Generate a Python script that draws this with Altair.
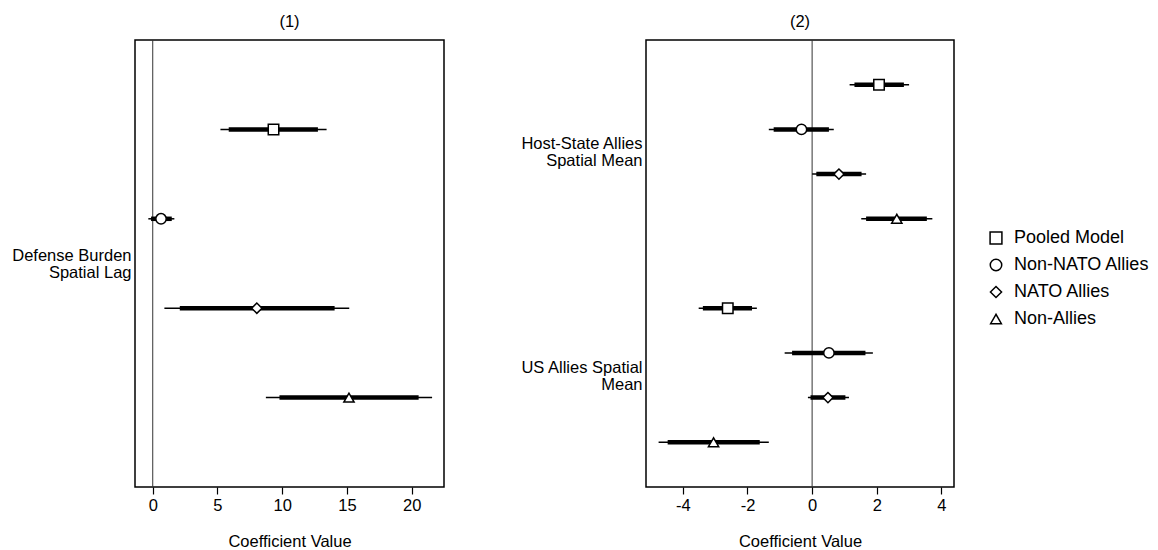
import json
import altair as alt
import pandas as pd

FONT = "Liberation Sans"

models = ["Pooled Model", "Non-NATO Allies", "NATO Allies", "Non-Allies"]
shapes = ["square", "circle", "diamond", "triangle-up"]
shape_sizes = [110, 105, 170, 150]
legend_sizes = [140, 115, 195, 165]

# Panel (1): Defense Burden Spatial Lag
p1_pos = [1, 2, 3, 4]
p1_model = models
p1_est = [9.33, 0.64, 8.04, 15.16]
p1_lo95 = [5.23, -0.34, 0.90, 8.74]
p1_hi95 = [13.43, 1.67, 15.18, 21.58]
p1_lo90 = [5.87, -0.13, 2.09, 9.79]
p1_hi90 = [12.76, 1.47, 14.05, 20.54]
p1_xticks = [0, 5, 10, 15, 20]
p1_ylabel_pos = [2.5]
p1_ylabels = [["Defense Burden", "Spatial Lag"]]

# Panel (2): Host-State Allies / US Allies spatial means
p2_pos = [1, 2, 3, 4, 6, 7, 8, 9]
p2_model = models + models
p2_est = [2.07, -0.33, 0.83, 2.62, -2.61, 0.52, 0.49, -3.05]
p2_lo95 = [1.16, -1.34, 0.00, 1.52, -3.51, -0.85, -0.13, -4.75]
p2_hi95 = [3.00, 0.67, 1.67, 3.72, -1.71, 1.88, 1.14, -1.34]
p2_lo90 = [1.31, -1.19, 0.13, 1.67, -3.38, -0.62, -0.05, -4.47]
p2_hi90 = [2.84, 0.52, 1.53, 3.55, -1.86, 1.65, 1.03, -1.62]
p2_xticks = [-4, -2, 0, 2, 4]
p2_ylabel_pos = [2.5, 7.5]
p2_ylabels = [["Host-State Allies", "Spatial Mean"], ["US Allies Spatial", "Mean"]]

ref_line = [0]

shape_scale = alt.Scale(domain=models, range=shapes)


def label_expr(vals, labels):
    expr = "''"
    for v, lab in reversed(list(zip(vals, labels))):
        expr = f"datum.value == {v} ? {json.dumps(lab)} : ({expr})"
    return expr


def title_params(text):
    return alt.TitleParams(text, fontSize=16.5, fontWeight="normal",
                           offset=9, color="black")


def panel(title, pos, model, est, lo95, hi95, lo90, hi90, xdomain, xticks,
          ydomain, ylab_pos, ylabels, width, height, yextent):
    df = pd.DataFrame({"pos": pos, "model": model, "est": est,
                       "lo95": lo95, "hi95": hi95, "lo90": lo90, "hi90": hi90})
    xscale = alt.Scale(domain=xdomain, nice=False, zero=False)
    xaxis = alt.Axis(values=xticks, labelExpr="'' + datum.value",
                     title="Coefficient Value", grid=False, domain=False,
                     tickColor="black", tickSize=7, tickWidth=1.2,
                     labelFontSize=16.5, labelColor="black", labelPadding=3,
                     titleFontSize=16.5, titleFontWeight="normal",
                     titleColor="black", titlePadding=20)
    yscale = alt.Scale(domain=ydomain, reverse=True, nice=False, zero=False)
    yaxis = alt.Axis(values=ylab_pos, labelExpr=label_expr(ylab_pos, ylabels),
                     ticks=False, domain=False, grid=False, title=None,
                     labelFontSize=16.5, labelLineHeight=17, labelColor="black",
                     labelPadding=4, labelBaseline="middle", labelOffset=-8,
                     minExtent=yextent, maxExtent=yextent)
    base = alt.Chart(df)
    x = alt.X("est:Q", scale=xscale, axis=xaxis)
    y = alt.Y("pos:Q", scale=yscale, axis=yaxis)

    ref = alt.Chart(pd.DataFrame({"v": ref_line})).mark_rule(
        color="#333333", strokeWidth=1).encode(
        x=alt.X("v:Q", scale=xscale, axis=xaxis))
    thin = base.mark_rule(color="black", strokeWidth=1.5).encode(
        x=alt.X("lo95:Q", scale=xscale, axis=xaxis), x2="hi95:Q", y=y)
    thick = base.mark_rule(color="black", strokeWidth=4.5).encode(
        x=alt.X("lo90:Q", scale=xscale, axis=xaxis), x2="hi90:Q", y=y)
    pts = base.mark_point(filled=True, fill="white", stroke="black",
                          strokeWidth=1.5, opacity=1).encode(
        x=x, y=y,
        shape=alt.Shape("model:N", scale=shape_scale, sort=models, legend=None),
        size=alt.Size("model:N", scale=alt.Scale(domain=models, range=shape_sizes),
                      sort=models, legend=None))
    return alt.layer(ref, thin, thick, pts).properties(
        width=width, height=height, title=title_params(title))


p1 = panel("(1)", p1_pos, p1_model, p1_est, p1_lo95, p1_hi95, p1_lo90, p1_hi90,
           [-1.37, 22.5], p1_xticks, [0, 5], p1_ylabel_pos, p1_ylabels,
           309, 447, 117)
p2 = panel("(2)", p2_pos, p2_model, p2_est, p2_lo95, p2_hi95, p2_lo90, p2_hi90,
           [-5.14, 4.39], p2_xticks, [0, 10], p2_ylabel_pos, p2_ylabels,
           308, 447, 126)

# Legend, drawn from the category list
leg_df = pd.DataFrame({"model": models})
leg_y = alt.Y("model:N", sort=models, axis=None,
              scale=alt.Scale(type="band", domain=models, range=[184.5, 292.5],
                              paddingInner=0, paddingOuter=0))
leg_sym = alt.Chart(leg_df).mark_point(
    filled=True, fill="white", stroke="black", strokeWidth=1.5, opacity=1).encode(
    x=alt.value(6), y=leg_y,
    shape=alt.Shape("model:N", scale=shape_scale, sort=models, legend=None),
    size=alt.Size("model:N", scale=alt.Scale(domain=models, range=legend_sizes),
                  sort=models, legend=None))
leg_txt = alt.Chart(leg_df).mark_text(
    align="left", baseline="middle", fontSize=18, color="black").encode(
    x=alt.value(24), y=leg_y, text="model:N")
legend = alt.layer(leg_sym, leg_txt).properties(
    width=120, height=447, title=title_params(" "),
    view=alt.ViewBackground(stroke=None))

panels = alt.hconcat(p1, p2, spacing=74)
chart = alt.hconcat(panels, legend, spacing=32).resolve_scale(
    size="independent").properties(
    padding={"left": 3, "top": 5, "right": 0, "bottom": 0}
).configure(font=FONT).configure_view(stroke="black", strokeWidth=1.5)

chart.save("out.html", embed_options={"renderer": "svg", "actions": False})
